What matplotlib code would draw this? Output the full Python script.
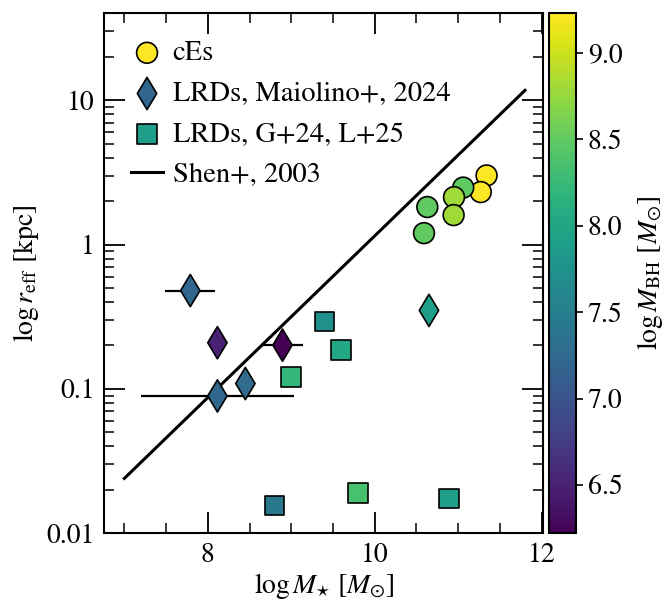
import numpy as np
import matplotlib
matplotlib.use("Agg")
import matplotlib.pyplot as plt
from matplotlib.ticker import MultipleLocator, FixedLocator, FixedFormatter, LogLocator, NullFormatter

plt.rcParams['font.family'] = 'STIXGeneral'
plt.rcParams['mathtext.fontset'] = 'stix'
plt.rcParams['font.size'] = 20

# cEs (circles) ########################################################
ces_mstar = [11.34, 11.27, 11.06, 10.95, 10.945, 10.63, 10.59]
ces_reff = [3.01, 2.31, 2.48, 2.13, 1.60, 1.82, 1.20]
ces_mbh = [9.23, 9.22, 8.50, 8.80, 8.80, 8.50, 8.50]

# LRDs, Maiolino+ 2024 (diamonds) ########################################
mai_mstar = [7.79, 8.115, 8.895, 8.45, 8.115, 10.65]
mai_reff = [0.48, 0.209, 0.201, 0.109, 0.0894, 0.35]
mai_mbh = [7.20, 6.50, 6.22, 7.27, 7.20, 7.88]
mai_xerr = [0.30, 0.0, 0.25, 0.0, 0.92, 0.0]

# LRDs, G+24, L+25 (squares) ###########################################
gl_mstar = [10.89, 9.40, 9.595, 9.00, 8.80, 9.80]
gl_reff = [0.0174, 0.293, 0.186, 0.121, 0.0156, 0.019]
gl_mbh = [7.88, 7.72, 8.03, 8.20, 7.42, 8.35]

# Shen+ 2003 relation endpoints
shen_mstar = [7.0, 11.8]
shen_reff = [0.024, 11.7]

vmin, vmax = 6.22, 9.23

fig = plt.figure(figsize=(6.67, 6.03), dpi=100)
ax = fig.add_axes([0.1564, 0.1156, 0.6582, 0.8624])
cax = fig.add_axes([0.8235, 0.1156, 0.0401, 0.8624])

line, = ax.plot(shen_mstar, shen_reff, color='k', lw=2.2, label='Shen+, 2003', zorder=2)

# error bars only where there is one
for x, y, e in zip(mai_mstar, mai_reff, mai_xerr):
    if e > 0:
        ax.errorbar(x, y, xerr=e, fmt='none', ecolor='k', elinewidth=1.6, zorder=2)

sc = ax.scatter(ces_mstar, ces_reff, c=ces_mbh, cmap='viridis', vmin=vmin, vmax=vmax,
                marker='o', s=225, edgecolors='k', linewidths=1.2, label='cEs', zorder=3)
sd = ax.scatter(mai_mstar, mai_reff, c=mai_mbh, cmap='viridis', vmin=vmin, vmax=vmax,
                marker='d', s=270, edgecolors='k', linewidths=1.2,
                label='LRDs, Maiolino+, 2024', zorder=3)
ss = ax.scatter(gl_mstar, gl_reff, c=gl_mbh, cmap='viridis', vmin=vmin, vmax=vmax,
                marker='s', s=200, edgecolors='k', linewidths=1.2,
                label='LRDs, G+24, L+25', zorder=3)

ax.set_yscale('log')
ax.set_xlim(6.76, 12.02)
ax.set_ylim(0.01, 40)

ax.xaxis.set_major_locator(MultipleLocator(2))
ax.xaxis.set_minor_locator(MultipleLocator(0.5))
ax.yaxis.set_major_locator(FixedLocator([0.01, 0.1, 1, 10]))
ax.yaxis.set_major_formatter(FixedFormatter(['0.01', '0.1', '1', '10']))
ax.yaxis.set_minor_locator(LogLocator(base=10, subs=np.arange(2, 10) * 1.0, numticks=20))
ax.yaxis.set_minor_formatter(NullFormatter())

ax.tick_params(which='both', direction='in', top=True, right=True, labelsize=20)
ax.tick_params(which='major', length=15, width=1.3, pad=7)
ax.tick_params(which='minor', length=7.5, width=1.1)
for sp in ax.spines.values():
    sp.set_linewidth(1.5)

ax.set_xlabel(r'$\log M_{\star}\ [M_{\odot}]$', fontsize=20, labelpad=2)
ax.set_ylabel(r'$\log r_{\rm eff}$ [kpc]', fontsize=20, labelpad=4)

ax.legend(handles=[sc, sd, ss, line], loc='upper left', frameon=False, fontsize=20.5,
          handlelength=1.1, handletextpad=0.35, labelspacing=0.52, borderaxespad=0.45,
          borderpad=0.5)

cb = fig.colorbar(sc, cax=cax)
cb.set_ticks([6.5, 7.0, 7.5, 8.0, 8.5, 9.0])
cb.ax.tick_params(labelsize=20, length=5, width=1.2, direction='out')
cb.outline.set_linewidth(1.5)
cb.set_label(r'$\log M_{\rm BH}\ [M_{\odot}]$', fontsize=20, labelpad=9)

fig.savefig('out.png', dpi=100)
